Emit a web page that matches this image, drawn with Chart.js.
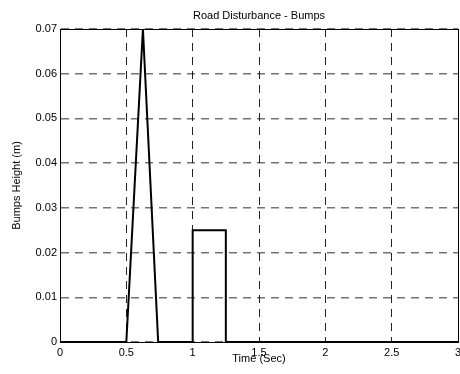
<!DOCTYPE html>
<html>
<head>
<meta charset="utf-8">
<script src="https://cdn.jsdelivr.net/npm/chart.js@4/dist/chart.umd.min.js"></script>
<style>
  html, body { margin: 0; padding: 0; background: #fff; }
  canvas { display: block; }
</style>
</head>
<body>
<canvas id="bumpChart" width="460" height="374"></canvas>
<script>
// Road bump profile: time (s) vs height (m)
const timeSec = [0, 0.5, 0.625, 0.74, 1, 1, 1.25, 1.25, 3];
const heightM = [0, 0, 0.07, 0, 0, 0.025, 0.025, 0, 0];
const xTicks = [0, 0.5, 1, 1.5, 2, 2.5, 3];
const yTicks = [0, 0.01, 0.02, 0.03, 0.04, 0.05, 0.06, 0.07];

const points = timeSec.map((t, i) => ({ x: t, y: heightM[i] }));
const font = { family: 'Liberation Sans, Arial, sans-serif', size: 11 };

const ctx = document.getElementById('bumpChart').getContext('2d');
new Chart(ctx, {
    type: 'line',
    data: {
        datasets: [{
            data: points,
            borderColor: '#000',
            borderWidth: 2,
            pointRadius: 0,
            tension: 0,
            fill: false
        }]
    },
    options: {
        responsive: false,
        animation: false,
        layout: { padding: { left: 0, right: 0, top: 0, bottom: 8 } },
        plugins: {
            legend: { display: false },
            tooltip: { enabled: false }
        },
        scales: {
            x: {
                type: 'linear',
                position: 'bottom',
                min: 0,
                max: 3,
                afterBuildTicks: (scale) => { scale.ticks = xTicks.map(v => ({ value: v })); },
                afterFit: (scale) => {
                    scale.height = 24;
                    scale.paddingLeft = 0;
                    scale.paddingRight = 0;
                },
                ticks: {
                    color: '#000',
                    font: font,
                    padding: 4,
                    maxRotation: 0,
                    callback: (v) => String(v)
                },
                grid: { color: '#222', lineWidth: 1, drawTicks: false },
                border: { color: '#000', width: 1, dash: [8, 6] },
                title: { display: true, text: 'Time (Sec)', color: '#000', font: font, padding: 0 }
            },
            xTop: {
                type: 'linear',
                position: 'top',
                min: 0,
                max: 3,
                afterFit: (scale) => { scale.height = 29; },
                ticks: { display: false },
                grid: { display: false, drawTicks: false },
                border: { color: '#000', width: 1 },
                title: { display: true, text: 'Road Disturbance - Bumps', color: '#000', font: font, padding: { top: 9, bottom: 0 } }
            },
            y: {
                type: 'linear',
                position: 'left',
                min: 0,
                max: 0.07,
                afterBuildTicks: (scale) => { scale.ticks = yTicks.map(v => ({ value: v })); },
                afterFit: (scale) => { scale.width = 60; },
                ticks: {
                    color: '#000',
                    font: font,
                    padding: 3,
                    callback: (v) => String(Math.round(v * 100) / 100)
                },
                grid: { color: 'rgba(0,0,0,0.55)', lineWidth: 1.5, drawTicks: false },
                border: { color: '#000', width: 1, dash: [8, 6] },
                title: { display: true, text: 'Bumps Height (m)', color: '#000', font: font, padding: { top: 10, bottom: 0 } }
            },
            yRight: {
                type: 'linear',
                position: 'right',
                min: 0,
                max: 0.07,
                afterFit: (scale) => { scale.width = 2; },
                ticks: { display: false },
                grid: { display: false, drawTicks: false },
                border: { color: '#000', width: 1 }
            }
        }
    }
});
</script>
</body>
</html>
